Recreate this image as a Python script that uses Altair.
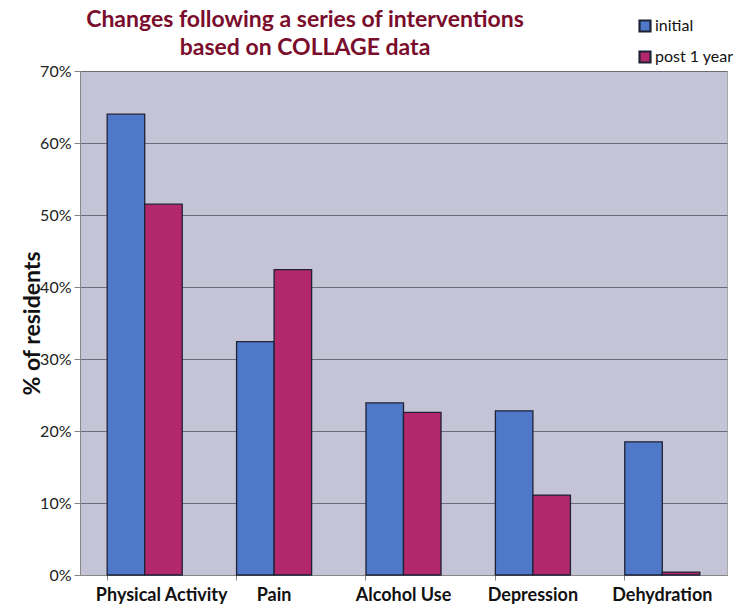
import altair as alt
import pandas as pd

categories = ["Physical Activity", "Pain", "Alcohol Use", "Depression", "Dehydration"]
initial = [64.0, 32.4, 23.9, 22.8, 18.5]
post_1_year = [51.5, 42.4, 22.6, 11.1, 0.4]
series = ["initial", "post 1 year"]
title_lines = ["Changes following a series of interventions", "based on COLLAGE data"]

rows = []
for c, a, b in zip(categories, initial, post_1_year):
    rows.append({"category": c, "series": series[0], "value": a / 100})
    rows.append({"category": c, "series": series[1], "value": b / 100})
df = pd.DataFrame(rows)

FONT = "Lato"

bars = alt.Chart(df).mark_bar(stroke="#1e2236", strokeWidth=1.3).encode(
    x=alt.X("category:N", sort=categories, title=None,
            scale=alt.Scale(paddingInner=0.42, paddingOuter=0.21),
            axis=alt.Axis(labelAngle=0, labelFont=FONT, labelFontWeight="bold",
                          labelFontSize=18, labelColor="#111111", domainColor="#888888",
                          tickColor="#888888", ticks=True, tickSize=5, labelPadding=6,
                          labelOffset=alt.expr("datum.value == 'Physical Activity' ? 17 : 0"),
                          grid=False, bandPosition=0)),
    xOffset=alt.XOffset("series:N", sort=series),
    y=alt.Y("value:Q", title="% of residents",
            scale=alt.Scale(domain=[0, 0.7], nice=False),
            axis=alt.Axis(format=".0%", values=[0, .1, .2, .3, .4, .5, .6, .7],
                          labelFont=FONT, labelFontSize=16, labelColor="#222222",
                          titleFont=FONT, titleFontSize=23, titleFontWeight="bold",
                          titleColor="#111111", titlePadding=-5,
                          gridColor="#6c6c76", gridWidth=1.2, domainColor="#888888",
                          tickColor="#888888", tickSize=6, labelPadding=3)),
    color=alt.Color("series:N", sort=series,
                    scale=alt.Scale(domain=series, range=["#4f78c8", "#b3276c"]),
                    legend=alt.Legend(title=None, orient="none", legendX=557, legendY=-53,
                                      symbolType="square", symbolSize=120,
                                      symbolStrokeColor="#1e2236", symbolStrokeWidth=2.2,
                                      labelFont=FONT, labelFontSize=16, labelColor="#111111",
                                      rowPadding=11, labelOffset=2)),
)

t1 = alt.Chart(pd.DataFrame({"t": [title_lines[0]]})).mark_text(
    font=FONT, fontSize=23, fontWeight="bold", color="#7a0d2c", align="center", baseline="alphabetic"
).encode(text="t:N", x=alt.value(225), y=alt.value(-44))
t2 = alt.Chart(pd.DataFrame({"t": [title_lines[1]]})).mark_text(
    font=FONT, fontSize=23, fontWeight="bold", color="#7a0d2c", align="center", baseline="alphabetic"
).encode(text="t:N", x=alt.value(225), y=alt.value(-16))

chart = alt.layer(bars, t1, t2).properties(
    width=647, height=504,
    autosize="none",
    padding={"left": 80, "top": 71, "right": 12, "bottom": 31},
).configure(background="white").configure_view(fill="#c4c4d6", stroke="#aaaaaa")

chart.save("out.html", embed_options={"renderer": "svg", "actions": False})
